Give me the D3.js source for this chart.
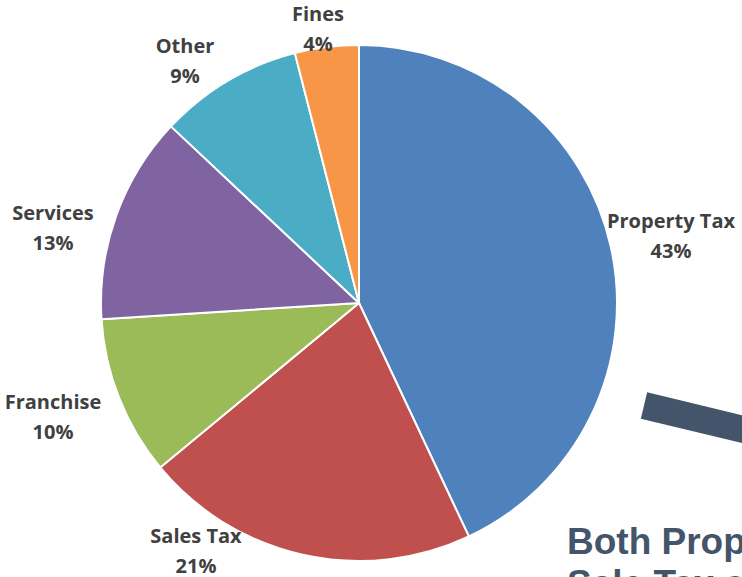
<!DOCTYPE html>
<html>
<head>
<meta charset="utf-8">
<script src="https://cdn.jsdelivr.net/npm/d3@7"></script>
<style>
  html, body { margin: 0; padding: 0; background: #ffffff; overflow: hidden; }
  svg { display: block; }
</style>
</head>
<body>
<svg id="chart" width="742" height="577"></svg>
<script>
// Revenue sources, clockwise from 12 o'clock
const categories = ["Property Tax", "Sales Tax", "Franchise", "Services", "Other", "Fines"];
const shares = [43, 21, 10, 13, 9, 4];
const sliceColors = ["#4F81BD", "#C0504D", "#9BBB59", "#8064A2", "#4BACC6", "#F79646"];
// Label anchor for each slice: [center x, baseline of first line]
const labelAnchors = [[671, 228], [196, 543], [53, 409], [53, 220], [185, 53], [318, 21]];
const calloutLines = ["Both Property Tax and", "Sale Tax are the largest"];

const svg = d3.select("#chart");
const cx = 359, cy = 303, radius = 258;

const data = categories.map((c, i) => ({ name: c, value: shares[i], color: sliceColors[i], anchor: labelAnchors[i] }));

const pie = d3.pie().value(d => d.value).sort(null);
const arc = d3.arc().innerRadius(0).outerRadius(radius);

const g = svg.append("g").attr("transform", `translate(${cx},${cy})`);
g.selectAll("path.slice")
  .data(pie(data))
  .join("path")
  .attr("class", "slice")
  .attr("d", arc)
  .attr("fill", d => d.data.color)
  .attr("stroke", "#ffffff")
  .attr("stroke-width", 2)
  .attr("stroke-linejoin", "round");

// Category labels with percentages
const labels = svg.selectAll("text.lbl")
  .data(data)
  .join("text")
  .attr("class", "lbl")
  .attr("text-anchor", "middle")
  .attr("font-family", "'Open Sans', Lato, sans-serif")
  .attr("font-weight", 700)
  .attr("font-size", 20)
  .attr("fill", "#404040");
labels.append("tspan")
  .attr("x", d => d.anchor[0])
  .attr("y", d => d.anchor[1])
  .text(d => d.name);
labels.append("tspan")
  .attr("x", d => d.anchor[0])
  .attr("y", d => d.anchor[1] + 30)
  .text(d => d.value + "%");

// Pointer bar heading off to the right
const ang = 13.5 * Math.PI / 180;
const start = [644, 405.5];
svg.append("line")
  .attr("x1", start[0]).attr("y1", start[1])
  .attr("x2", start[0] + 300 * Math.cos(ang)).attr("y2", start[1] + 300 * Math.sin(ang))
  .attr("stroke", "#44546A")
  .attr("stroke-width", 27)
  .attr("stroke-linecap", "butt");

// Callout text
svg.append("text")
  .attr("font-family", "'Liberation Sans', Arial, sans-serif")
  .attr("font-weight", 700)
  .attr("font-size", 37)
  .attr("fill", "#44546A")
  .selectAll("tspan")
  .data(calloutLines)
  .join("tspan")
  .attr("x", 567)
  .attr("y", (d, i) => 554 + i * 42)
  .text(d => d);
</script>
</body>
</html>
